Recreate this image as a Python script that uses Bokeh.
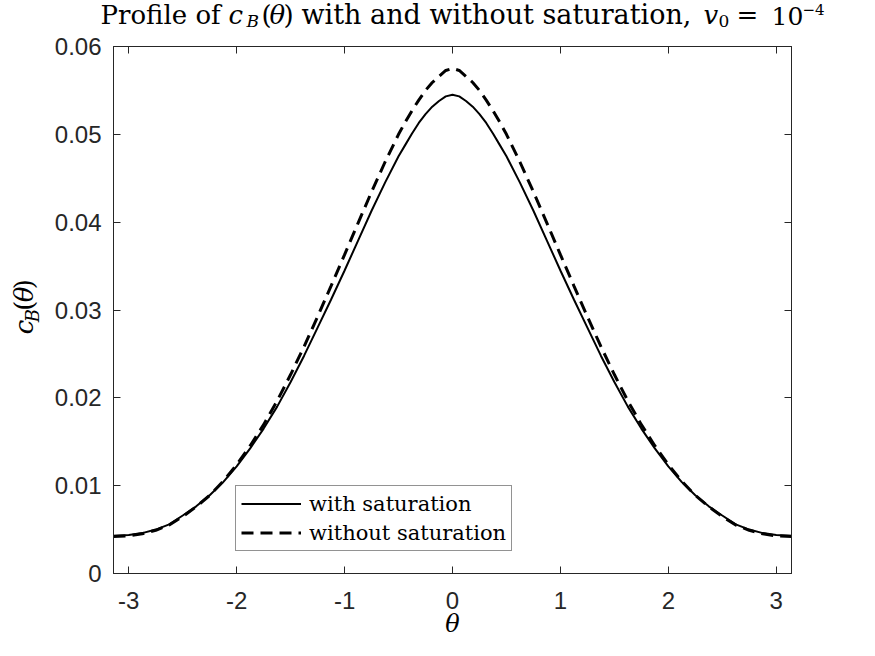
import math
from bokeh.plotting import figure
from bokeh.layouts import column, row
from bokeh.models import Range1d, LinearAxis, FixedTicker, Legend, LegendItem
from bokeh.core.properties import value
from bokeh.embed import file_html
from bokeh.resources import INLINE

# ---- data ----
theta = [-3.1416, -3.0, -2.875, -2.75, -2.625, -2.5, -2.375, -2.25, -2.125, -2.0,
         -1.875, -1.75, -1.625, -1.5, -1.375, -1.25, -1.125, -1.0, -0.875, -0.75,
         -0.625, -0.5, -0.4375, -0.375, -0.3125, -0.25, -0.1875, -0.125, -0.0625, 0.0,
         0.0625, 0.125, 0.1875, 0.25, 0.3125, 0.375, 0.4375, 0.5, 0.625, 0.75,
         0.875, 1.0, 1.125, 1.25, 1.375, 1.5, 1.625, 1.75, 1.875, 2.0,
         2.125, 2.25, 2.375, 2.5, 2.625, 2.75, 2.875, 3.0, 3.1416]

with_saturation = [0.00430, 0.00438, 0.00460, 0.00500, 0.00560, 0.00660, 0.00765, 0.00890, 0.01040, 0.01220,
                   0.01425, 0.01650, 0.01900, 0.02180, 0.02480, 0.02800, 0.03120, 0.03450, 0.03790, 0.04130,
                   0.04450, 0.04750, 0.04880, 0.05010, 0.05130, 0.05230, 0.05315, 0.05380, 0.05432, 0.05450,
                   0.05432, 0.05380, 0.05315, 0.05230, 0.05130, 0.05010, 0.04880, 0.04750, 0.04450, 0.04130,
                   0.03790, 0.03450, 0.03120, 0.02800, 0.02480, 0.02180, 0.01900, 0.01650, 0.01425, 0.01220,
                   0.01040, 0.00890, 0.00765, 0.00660, 0.00560, 0.00500, 0.00460, 0.00438, 0.00430]

without_saturation = [0.00420, 0.00428, 0.00452, 0.00492, 0.00552, 0.00648, 0.00760, 0.00890, 0.01050, 0.01240,
                      0.01455, 0.01695, 0.01965, 0.02265, 0.02585, 0.02925, 0.03275, 0.03630, 0.03990, 0.04345,
                      0.04685, 0.05000, 0.05140, 0.05270, 0.05390, 0.05500, 0.05590, 0.05660, 0.05727, 0.05750,
                      0.05727, 0.05660, 0.05590, 0.05500, 0.05390, 0.05270, 0.05140, 0.05000, 0.04685, 0.04345,
                      0.03990, 0.03630, 0.03275, 0.02925, 0.02585, 0.02265, 0.01965, 0.01695, 0.01455, 0.01240,
                      0.01050, 0.00890, 0.00760, 0.00648, 0.00552, 0.00492, 0.00452, 0.00428, 0.00420]

x_ticks = [-3, -2, -1, 0, 1, 2, 3]
x_tick_labels = ["-3", "-2", "-1", "0", "1", "2", "3"]
y_ticks = [0.0, 0.01, 0.02, 0.03, 0.04, 0.05, 0.06]
y_tick_labels = ["0", "0.01", "0.02", "0.03", "0.04", "0.05", "0.06"]
legend_labels = ["with saturation", "without saturation"]
x_label = "θ"

AX = "#262626"
TICK_FONT = "Liberation Sans"
SERIF = "DejaVu Serif"

TOTAL_W, TOTAL_H = 859, 640
TITLE_H = 32
YLAB_W = 50
MAIN_TOP = 46 - TITLE_H                        # 14
MAIN_H = TOTAL_H - TITLE_H                     # 608
MAIN_BOTTOM = MAIN_H - MAIN_TOP - 528          # 66
MAIN_W = TOTAL_W - YLAB_W                      # 809

SHIFT = 0.36   # measured offset (in em) of the drawn baseline below the requested one


def text_fig(w, h):
    f = figure(width=w, height=h, x_range=Range1d(0, w), y_range=Range1d(0, h),
               x_axis_type=None, y_axis_type=None, output_backend="svg",
               toolbar_location=None, min_border=0)
    f.grid.visible = False
    f.outline_line_color = None
    f.background_fill_color = "white"
    f.border_fill_color = "white"
    return f


def put(f, text, px, py, size, style="normal", align="left"):
    # px, py: wanted baseline position inside figure f (y measured from its top)
    py = py - SHIFT * size
    f.text(x=[px], y=[f.height - py], text=[text], text_font=value(SERIF),
           text_font_size=value(f"{size}px"), text_font_style=value(style),
           text_color="black", text_align=value(align),
           text_baseline=value("alphabetic"))


def put_rot(f, text, px, py, size, style="normal"):
    # rotated 90 deg: px = wanted baseline x, py = wanted start (bottom) y
    px = px - SHIFT * size
    py = py + 17
    f.text(x=[px], y=[f.height - py], text=[text], text_font=value(SERIF),
           text_font_size=value(f"{size}px"), text_font_style=value(style),
           text_color="black", text_align=value("left"),
           text_baseline=value("alphabetic"), angle=math.pi / 2)


# ---- title ----
tf = text_fig(TOTAL_W, TITLE_H)
put(tf, "Profile of", 100, 24, 26)
put(tf, "c", 228, 24, 26, "italic")
put(tf, "B", 246, 27, 17, "italic")
put(tf, "(", 261, 24, 26)
put(tf, "θ", 269, 24, 26, "italic")
put(tf, ")", 283, 24, 26)
put(tf, "with and without saturation,", 301, 24, 27)
put(tf, "v", 703, 24, 26, "italic")
put(tf, "0", 718, 27, 17)
put(tf, "=", 736, 24, 26)
put(tf, "10", 771, 24, 25)
put(tf, "−4", 802, 14, 15)

# ---- y axis label (rotated) ----
yf = text_fig(YLAB_W, MAIN_H)
off = TITLE_H
put_rot(yf, "c", 33, 347 - off, 26, "italic")
put_rot(yf, "B", 38, 333 - off, 18, "italic")
put_rot(yf, "(", 33, 320 - off, 26)
put_rot(yf, "θ", 33, 310 - off, 26, "italic")
put_rot(yf, ")", 33, 295 - off, 26)

# ---- main plot (frame at page x 113..791, y 46..574) ----
p = figure(width=MAIN_W, height=MAIN_H,
           x_range=Range1d(-math.pi, math.pi), y_range=Range1d(0, 0.06),
           output_backend="svg", toolbar_location=None,
           min_border_left=113 - YLAB_W, min_border_right=TOTAL_W - 791,
           min_border_top=MAIN_TOP, min_border_bottom=MAIN_BOTTOM)
p.grid.visible = False
p.outline_line_color = AX
p.outline_line_width = 1
p.background_fill_color = "white"
p.border_fill_color = "white"


def style_axis(ax, show_labels=True, standoff=12):
    ax.major_tick_in = 7
    ax.major_tick_out = 0
    ax.minor_tick_line_color = None
    ax.major_tick_line_color = AX
    ax.axis_line_color = AX
    ax.axis_line_width = 1
    if show_labels:
        ax.major_label_text_font = TICK_FONT
        ax.major_label_text_font_size = "24px"
        ax.major_label_text_color = AX
        ax.major_label_standoff = standoff
    else:
        ax.major_label_text_color = None
        ax.major_label_text_font_size = "1px"
        ax.major_label_standoff = 0


p.xaxis.ticker = FixedTicker(ticks=x_ticks)
p.xaxis.major_label_overrides = dict(zip(x_ticks, x_tick_labels))
p.yaxis.ticker = FixedTicker(ticks=y_ticks)
p.yaxis.major_label_overrides = dict(zip(y_ticks, y_tick_labels))
style_axis(p.xaxis[0], standoff=18)
style_axis(p.yaxis[0], standoff=12)
p.xaxis.axis_label = x_label
p.xaxis.axis_label_text_font = SERIF
p.xaxis.axis_label_text_font_style = "italic"
p.xaxis.axis_label_text_font_size = "24px"
p.xaxis.axis_label_text_color = "black"
p.xaxis.axis_label_standoff = -2

top_axis = LinearAxis(ticker=FixedTicker(ticks=x_ticks))
style_axis(top_axis, show_labels=False)
p.add_layout(top_axis, "above")
right_axis = LinearAxis(ticker=FixedTicker(ticks=y_ticks))
style_axis(right_axis, show_labels=False)
p.add_layout(right_axis, "right")

r1 = p.line(theta, with_saturation, line_color="black", line_width=2)
r2 = p.line(theta, without_saturation, line_color="black", line_width=3, line_dash="12 7")

legend = Legend(items=[LegendItem(label=legend_labels[0], renderers=[r1]),
                       LegendItem(label=legend_labels[1], renderers=[r2])],
                location=(122, 22), margin=0, padding=5, spacing=4,
                glyph_width=60, glyph_height=25, label_height=25, label_standoff=8,
                label_text_font=SERIF, label_text_font_size="21px", label_text_color="black",
                border_line_color=AX, border_line_width=1,
                background_fill_color="white", background_fill_alpha=1.0)
p.add_layout(legend)

layout = column(tf, row(yf, p))
open("out.html", "w").write(file_html(layout, INLINE))
